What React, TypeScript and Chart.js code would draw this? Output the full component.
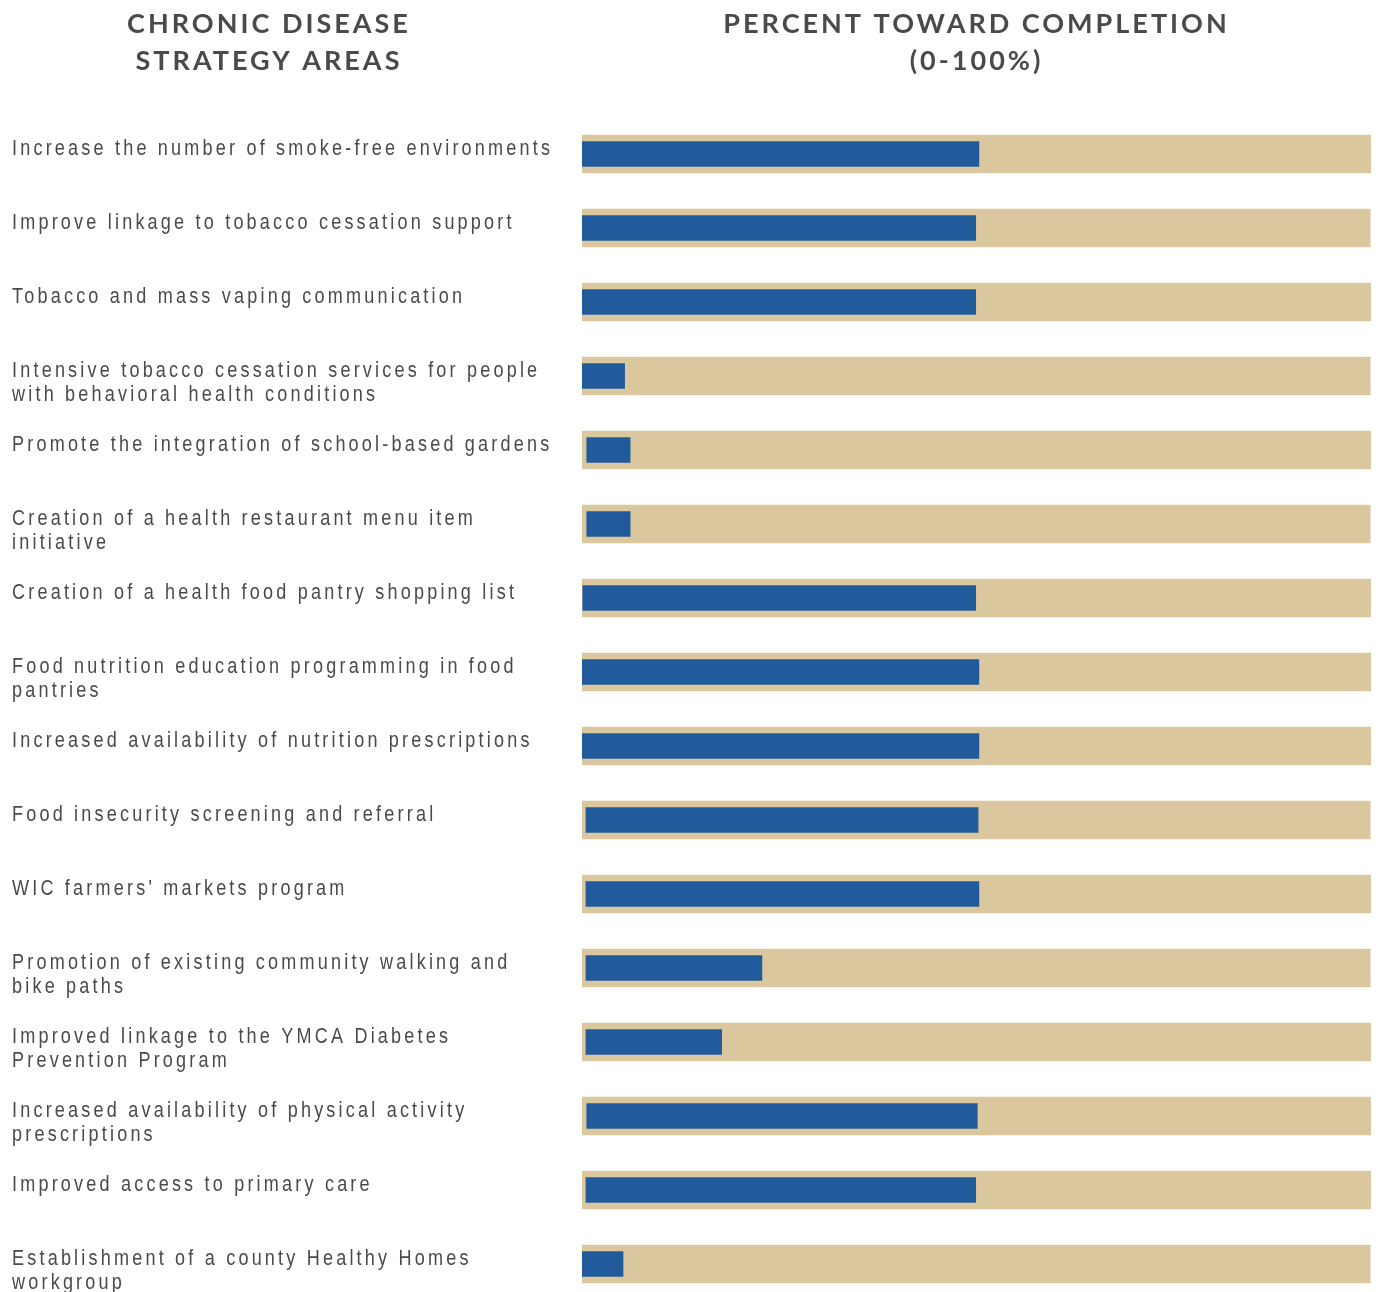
import React, { useEffect, useRef } from "react";
import { Chart, registerables } from "chart.js";

Chart.register(...registerables);

const categories: (string | string[])[] = [
  "Increase the number of smoke-free environments",
  "Improve linkage to tobacco cessation support",
  "Tobacco and mass vaping communication",
  ["Intensive tobacco cessation services for people", "with behavioral health conditions"],
  "Promote the integration of school-based gardens",
  ["Creation of a health restaurant menu item", "initiative"],
  "Creation of a health food pantry shopping list",
  ["Food nutrition education programming in food", "pantries"],
  "Increased availability of nutrition prescriptions",
  "Food insecurity screening and referral",
  "WIC farmers' markets program",
  ["Promotion of existing community walking and", "bike paths"],
  ["Improved linkage to the YMCA Diabetes", "Prevention Program"],
  ["Increased availability of physical activity", "prescriptions"],
  "Improved access to primary care",
  ["Establishment of a county Healthy Homes", "workgroup"],
];

// percent toward completion (bar start / end as drawn)
const progressStart = [-0.25, -0.1, -0.1, 0, 0.6, 0.6, 0.1, -0.25, -0.25, 0.5, 0.5, 0.5, 0.5, 0.6, 0.5, -0.25];
const progressEnd = [50.3, 49.9, 49.9, 5.4, 6.1, 6.1, 49.9, 50.3, 50.3, 50.2, 50.3, 22.8, 17.7, 50.1, 49.9, 5.2];
const target = [100, 99.9, 100, 99.9, 100, 99.9, 100.6, 100, 100, 99.9, 100, 99.9, 100, 100, 100, 99.9];

const leftHeader = ["CHRONIC DISEASE", "STRATEGY AREAS"];
const rightHeader = ["PERCENT TOWARD COMPLETION", "(0-100%)"];

const BLUE = "#225B9B";
const TAN = "#DBC79E";

const textPlugin = {
  id: "textPlugin",
  afterDraw(chart: any) {
    const ctx = chart.ctx as CanvasRenderingContext2D;
    const y = chart.scales.y;
    const x = chart.scales.x;
    ctx.save();
    // category labels (narrow face emulated by horizontal condensing)
    ctx.font = "22px 'Liberation Sans', Arial, sans-serif";
    ctx.fillStyle = "#4a4a4a";
    ctx.textAlign = "left";
    ctx.textBaseline = "alphabetic";
    (ctx as any).letterSpacing = "3.9px";
    categories.forEach((lab, i) => {
      const lines = Array.isArray(lab) ? lab : [lab];
      const py = y.getPixelForValue(i);
      lines.forEach((l, k) => {
        ctx.save();
        ctx.translate(12, py + 1 + k * 24);
        ctx.scale(0.82, 1);
        ctx.fillText(l, 0, 0);
        ctx.restore();
      });
    });
    // headers
    ctx.font = "bold 27px Lato, 'Open Sans', sans-serif";
    ctx.fillStyle = "#4a4a4a";
    ctx.textAlign = "center";
    (ctx as any).letterSpacing = "3px";
    leftHeader.forEach((l, k) => ctx.fillText(l, 269, 33 + k * 37));
    const cx = (x.left + x.right) / 2;
    rightHeader.forEach((l, k) => ctx.fillText(l, cx, 33 + k * 37));
    ctx.restore();
  },
};

export default function App() {
  const ref = useRef<HTMLCanvasElement | null>(null);
  useEffect(() => {
    if (!ref.current) return;
    const labels = categories.map((c) => (Array.isArray(c) ? c.join(" ") : c));
    const chart = new Chart(ref.current, {
      type: "bar",
      data: {
        labels,
        datasets: [
          {
            label: "Progress",
            data: progressStart.map((s, i) => [s, progressEnd[i]]) as any,
            backgroundColor: BLUE,
            barThickness: 25,
            grouped: false,
            borderSkipped: false,
          } as any,
          {
            label: "Target",
            data: target,
            backgroundColor: TAN,
            barThickness: 38,
            grouped: false,
          } as any,
        ],
      },
      options: {
        indexAxis: "y",
        responsive: false,
        animation: false,
        layout: { padding: { top: 117, bottom: 19, left: 582, right: 10 } },
        plugins: { legend: { display: false }, tooltip: { enabled: false }, title: { display: false } },
        scales: {
          x: { display: false, min: 0, max: 100 },
          y: { display: false },
        },
      },
      plugins: [textPlugin],
    });
    return () => chart.destroy();
  }, []);
  return (
    <div style={{ position: "absolute", top: 0, left: 0, width: 1381, height: 1292, overflow: "hidden", background: "#fff" }}>
      <canvas ref={ref} width={1381} height={1320} style={{ display: "block" }} />
    </div>
  );
}
